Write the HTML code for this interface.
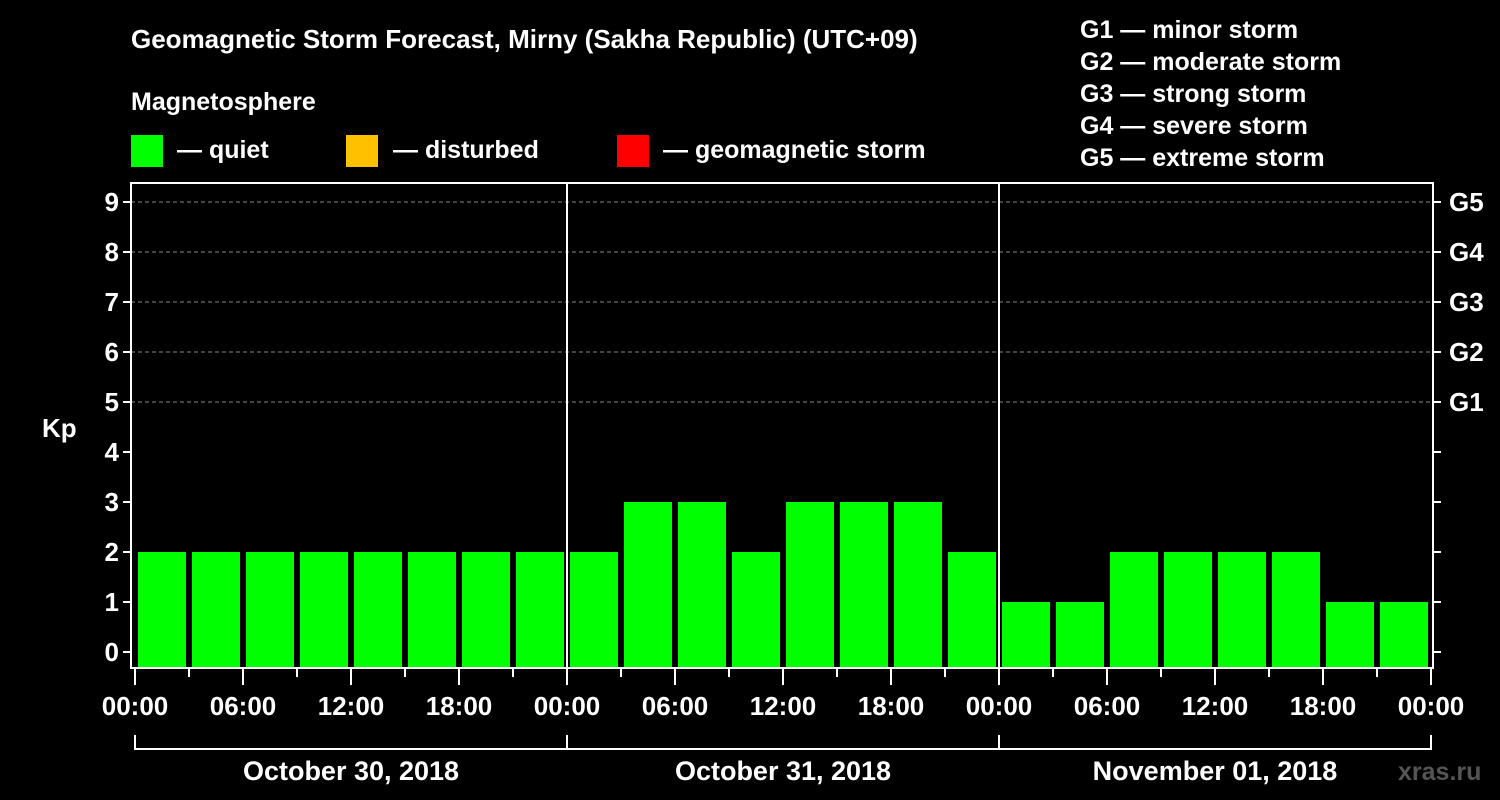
<!DOCTYPE html>
<html><head><meta charset="utf-8"><style>
body{margin:0;background:#000;}
svg{display:block;font-family:"Liberation Sans",Arial,sans-serif;font-weight:bold;}
</style></head><body>
<svg width="1500" height="800" viewBox="0 0 1500 800">
<rect width="1500" height="800" fill="#000"/>
<g id="static" fill="#fff" font-size="26">
<text x="131" y="48">Geomagnetic Storm Forecast, Mirny (Sakha Republic) (UTC+09)</text>
<text x="131" y="110" font-size="25">Magnetosphere</text>
<rect x="131" y="135" width="32" height="32" fill="#00ff00"/>
<text x="177" y="158" font-size="25">— quiet</text>
<rect x="346" y="135" width="32" height="32" fill="#ffc000"/>
<text x="393" y="158" font-size="25">— disturbed</text>
<rect x="617" y="135" width="32" height="32" fill="#ff0000"/>
<text x="663" y="158" font-size="25">— geomagnetic storm</text>
<g font-size="25">
<text x="1080" y="38">G1 — minor storm</text>
<text x="1080" y="70">G2 — moderate storm</text>
<text x="1080" y="102">G3 — strong storm</text>
<text x="1080" y="134">G4 — severe storm</text>
<text x="1080" y="166">G5 — extreme storm</text>
</g>
<text x="42" y="437">Kp</text>
<text x="1398" y="780" font-size="25" fill="#555">xras.ru</text>
</g>
<g id="chart"></g>
</svg>
<script>
const kpValues=[2,2,2,2,2,2,2,2, 2,3,3,2,3,3,3,2, 1,1,2,2,2,2,1,1];
const yTicks=[0,1,2,3,4,5,6,7,8,9];
const gLabels=[[5,"G1"],[6,"G2"],[7,"G3"],[8,"G4"],[9,"G5"]];
const dayLabels=["October 30, 2018","October 31, 2018","November 01, 2018"];
const timeLabels=["00:00","06:00","12:00","18:00"];
const NS="http://www.w3.org/2000/svg";
const L=131,R=1433,T=183,B=668,X0=135,DAYW=432;
const y=v=>652-v*50;
const x=h=>X0+h*DAYW/24;
const g=document.getElementById('chart');
function mk(tag,a,parent){const e=document.createElementNS(NS,tag);for(const k in a)e.setAttribute(k,a[k]);(parent||g).appendChild(e);return e;}
// grid
for(const v of yTicks){
 if(v>=5){const ln=mk('line',{x1:L,x2:R,y1:y(v),y2:y(v),stroke:'#888','stroke-dasharray':'4,3','stroke-width':1});
 
 }
 const t=mk('line',{x1:L-8,x2:L,y1:y(v),y2:y(v),stroke:'#fff','stroke-width':2});
 
 
 const t2=mk('line',{x1:R,x2:R+8,y1:y(v),y2:y(v),stroke:'#fff','stroke-width':2});
 
 
 const lb=mk('text',{x:L-12,y:y(v)+9,fill:'#fff','font-size':26,'text-anchor':'end'});
 lb.textContent=v;
 
 
}
for(const [v,s] of gLabels){
 const lb=mk('text',{x:R+16,y:y(v)+9,fill:'#fff','font-size':26});
 lb.textContent=s;
 
 
}
// bars
kpValues.forEach((v,i)=>{
 const b=mk('rect',{x:x(i*3)+3,y:y(v),width:48,height:B-y(v),fill:'#00ff00'});
 
 
});
// frame
const fr=mk('rect',{x:L,y:T,width:R-L,height:B-T,fill:'none',stroke:'#fff','stroke-width':2});


for(let d=1;d<dayLabels.length;d++){
 const s=mk('line',{x1:x(d*24),x2:x(d*24),y1:T,y2:B,stroke:'#fff','stroke-width':2});
 
 
}
// x ticks
for(let h=0;h<=72;h+=3){
 const major=h%6===0;
 const t=mk('line',{x1:x(h),x2:x(h),y1:B,y2:major?685:677,stroke:'#fff','stroke-width':2});
 
 
 if(major){const lb=mk('text',{x:x(h),y:715,fill:'#fff','font-size':26,'text-anchor':'middle'});
  lb.textContent=timeLabels[(h/6)%4];
  
  }
}
// day brackets
const br=mk('path',{d:`M${x(0)},735 V749 H${x(72)} V735`,fill:'none',stroke:'#fff','stroke-width':2});


dayLabels.forEach((s,d)=>{
 const t=mk('line',{x1:x(d*24),x2:x(d*24),y1:735,y2:749,stroke:'#fff','stroke-width':2});
 
 
 const lb=mk('text',{x:x(d*24+12),y:780,fill:'#fff','font-size':27,'text-anchor':'middle'});
 lb.textContent=s;
 
 
});
</script>
</body></html>
